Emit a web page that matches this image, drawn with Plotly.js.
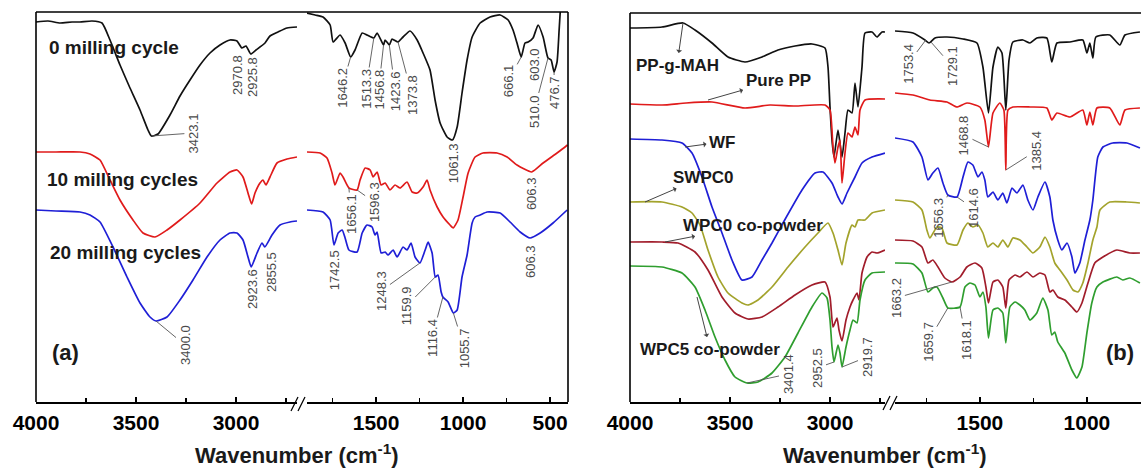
<!DOCTYPE html>
<html>
<head>
<meta charset="utf-8">
<script src="https://cdn.plot.ly/plotly-3.0.1.min.js"></script>
<style>html,body{margin:0;padding:0;background:#fff;}#chart{width:1141px;height:472px;}</style>
</head>
<body>
<div id="chart"></div>
<script>
// ---------- DATA (wavenumber, cm^-1 ; transmittance, arbitrary offset units) ----------
// Panel (a)
const cyc0_hi_wn = [4000,3940,3880,3820,3780,3720,3670,3630,3580,3530,3480,3440,3423,3390,3330,3280,3230,3180,3130,3080,3030,2995,2971,2950,2926,2900,2855,2830,2790,2745,2695];
const cyc0_hi_T  = [380,381,379,380,380,381,379,362,337,314,292,272,266,268,287,306,322,337,349,357,362,361,354,356,348,352,359,366,370,374,375];
const cyc0_lo_wn = [1897,1850,1805,1764,1747,1707,1678,1646,1621,1580,1552,1513,1494,1457,1448,1424,1408,1374,1345,1305,1264,1230,1190,1161,1132,1092,1061,1034,1006,977,948,902,845,787,741,713,690,666,644,626,598,569,540,512,494,477,460,448,441];
const cyc0_lo_T  = [389,387,385,377,360,367,359,345,352,369,367,364,369,357,362,357,363,360,365,371,362,349,332,302,279,265,262,275,309,342,365,379,385,387,382,372,359,345,359,360,364,377,365,344,342,330,340,372,392];

const cyc10_hi_wn = [4000,3900,3780,3730,3680,3630,3580,3515,3465,3405,3345,3280,3180,3095,3030,2995,2965,2940,2922,2905,2880,2865,2850,2830,2795,2745,2695];
const cyc10_hi_T  = [250,250,250,248,242,222,202,182,169,165,172,182,199,219,230,232,225,209,198,209,219,222,217,225,239,243,245];
const cyc10_lo_wn = [1897,1822,1782,1753,1736,1707,1690,1656,1609,1592,1563,1534,1517,1494,1471,1448,1420,1391,1362,1322,1293,1264,1230,1207,1190,1149,1115,1075,1057,1029,1000,971,931,885,805,747,690,606,540,460,414,400];
const cyc10_lo_T  = [250,249,244,229,217,229,225,214,212,222,234,232,225,230,217,219,212,217,214,220,210,209,215,222,212,195,185,177,174,182,205,229,245,249,249,245,237,230,239,249,255,257];

const cyc20_hi_wn = [4000,3900,3780,3730,3680,3615,3545,3480,3430,3400,3345,3280,3215,3145,3080,3030,2995,2965,2940,2924,2895,2870,2856,2820,2780,2730,2695];
const cyc20_hi_T  = [192,191,190,187,180,155,125,99,85,81,85,102,122,145,162,169,169,162,145,135,149,159,155,167,177,180,181];
const cyc20_lo_wn = [1897,1805,1764,1742,1718,1695,1678,1656,1609,1580,1552,1523,1506,1494,1471,1448,1431,1402,1379,1345,1322,1299,1276,1248,1218,1201,1178,1160,1144,1126,1116,1086,1056,1034,1006,977,948,931,902,862,787,730,672,615,557,483,402];
const cyc20_lo_T  = [192,190,182,157,169,172,164,152,150,169,177,175,167,170,149,150,147,152,145,155,152,159,145,139,152,160,149,125,127,110,105,100,89,92,125,147,179,185,187,190,189,180,170,164,169,179,192];

// Panel (b)
const mah_hi_wn = [4000,3840,3735,3675,3590,3510,3425,3340,3260,3175,3090,3025,3010,3000,2990,2980,2960,2940,2925,2910,2890,2875,2860,2840,2825,2790,2765,2740,2725];
const mah_hi_T  = [374,375,379,372,359,345,340,345,352,356,358,354,335,295,262,245,272,245,269,292,289,319,295,335,369,370,365,370,370];
const mah_lo_wn = [1897,1813,1757,1738,1710,1654,1579,1514,1486,1460,1439,1416,1397,1379,1364,1346,1299,1266,1234,1187,1164,1140,1079,1019,1000,986,972,958,893,846,822,752];
const mah_lo_T  = [371,369,362,359,364,365,363,359,335,289,335,355,349,292,342,360,362,359,364,364,340,359,360,362,349,359,344,365,367,357,367,370];

const pp_hi_wn = [4000,3840,3720,3590,3425,3300,3175,3025,3000,2985,2975,2960,2950,2940,2925,2910,2890,2875,2860,2850,2825,2725];
const pp_hi_T  = [298,297,299,300,294,297,296,297,292,255,239,255,262,219,249,269,265,275,267,292,302,303];
const pp_lo_wn = [1897,1813,1734,1654,1607,1561,1500,1477,1460,1439,1407,1388,1379,1369,1346,1266,1187,1164,1140,1079,1019,1000,986,972,953,893,846,822,752];
const pp_lo_T  = [309,307,302,300,295,299,295,282,255,289,299,292,232,292,295,295,294,282,289,285,292,277,290,277,294,294,277,292,294];

const wf_hi_wn = [4000,3840,3740,3690,3640,3590,3540,3490,3440,3390,3340,3290,3235,3140,3075,3035,2990,2960,2940,2915,2875,2840,2790,2725];
const wf_hi_T  = [263,262,259,249,225,195,169,142,122,125,142,159,179,212,229,230,219,205,198,209,225,239,245,249];
const wf_lo_wn = [1897,1813,1771,1743,1720,1696,1673,1650,1607,1579,1556,1533,1509,1491,1477,1463,1439,1416,1393,1374,1350,1327,1299,1276,1252,1229,1196,1173,1159,1136,1117,1093,1070,1056,1033,1009,986,972,949,925,879,813,752];
const wf_lo_T  = [264,260,245,222,229,234,219,207,205,225,240,237,225,230,222,205,210,202,209,199,214,209,217,202,192,205,220,205,182,162,152,159,145,129,139,162,182,202,245,255,259,259,254];

const swpc0_hi_wn = [4000,3840,3740,3690,3650,3610,3560,3510,3440,3410,3360,3290,3210,3125,3060,3010,2985,2960,2940,2920,2890,2875,2860,2825,2790,2725];
const swpc0_hi_T  = [200,200,195,189,177,152,125,109,99,97,102,115,135,155,169,179,169,152,137,159,177,175,182,182,189,192];
const swpc0_lo_wn = [1897,1813,1771,1748,1734,1701,1678,1654,1607,1579,1556,1533,1509,1486,1463,1439,1416,1393,1369,1346,1313,1280,1252,1220,1196,1173,1150,1126,1093,1065,1042,1019,995,972,953,939,893,813,752];
const swpc0_lo_T  = [202,200,192,172,164,175,174,159,157,172,179,175,177,169,155,159,155,162,155,164,162,155,149,155,165,155,139,132,122,112,110,119,139,162,175,192,200,200,199];

const wpc0_hi_wn = [4000,3840,3760,3675,3610,3540,3475,3410,3340,3260,3175,3090,3025,3000,2985,2965,2955,2940,2920,2900,2885,2865,2855,2840,2815,2790,2765,2725];
const wpc0_hi_T  = [160,160,159,150,132,105,89,83,85,95,107,117,120,105,75,84,72,61,82,95,102,109,102,129,145,150,149,152];
const wpc0_lo_wn = [1897,1813,1771,1743,1720,1696,1664,1631,1593,1561,1523,1491,1472,1460,1439,1416,1393,1379,1364,1336,1313,1280,1252,1220,1196,1173,1159,1136,1103,1070,1047,1023,995,963,925,860,799,752];
const wpc0_lo_T  = [162,161,155,139,142,135,124,120,125,135,139,134,115,99,120,122,115,94,122,127,125,130,125,129,127,110,112,105,102,95,90,99,119,139,145,152,149,149];

const wpc5_hi_wn = [4000,3840,3740,3675,3625,3575,3525,3475,3415,3360,3290,3225,3160,3090,3040,3015,3000,2990,2980,2960,2950,2940,2920,2900,2885,2865,2850,2825,2790,2725];
const wpc5_hi_T  = [136,135,129,115,92,65,42,25,19,20,29,45,69,95,109,104,82,55,40,57,49,35,55,72,82,79,102,122,129,130];
const wpc5_lo_wn = [1897,1813,1771,1743,1720,1701,1673,1650,1593,1570,1547,1523,1500,1486,1472,1460,1439,1416,1393,1379,1360,1336,1313,1290,1266,1234,1206,1182,1164,1150,1136,1103,1070,1047,1023,1000,977,953,925,860,832,799,752];
const wpc5_lo_T  = [139,138,129,110,114,115,104,94,95,115,119,117,105,110,95,64,92,94,89,59,95,100,97,92,82,89,104,92,67,70,60,49,32,24,35,69,99,115,120,125,122,124,119];

// Tick labels
const hiTicks = [4000,3500,3000], hiMinor = [3750,3250,2750];
const loTicksA = [1500,1000,500], loMinorA = [1750,1250,750];
const loTicksB = [1500,1000], loMinorB = [1750,1250];

// Peak labels: [text, axis, wavenumber, T, dxPx, dyPx, leader]
const peaksA = [
 ['3423.1','x',3423,266,42,-3,true], ['3400.0','x',3400,81,29,24,true],
 ['2970.8','x',2995,327,0,0,false], ['2925.8','x',2920,325,0,0,false],
 ['2923.6','x',2920,113,0,0,false], ['2855.5','x',2825,130,0,0,false],
 ['1646.2','x2',1646,345,-9,31,true], ['1513.3','x2',1513,364,-8,51,true],
 ['1456.8','x2',1457,357,-5,45,true], ['1423.6','x2',1424,357,6,46,true],
 ['1373.8','x2',1374,360,14,53,true], ['1061.3','x2',1057,239,0,0,false],
 ['666.1','x2',666,345,-13,24,true], ['603.0','x2',592,337,0,0,false],
 ['510.0','x2',512,344,-14,53,true], ['476.7','x2',477,330,0,21,true],
 ['1656.1','x2',1656,214,2,26,true], ['1596.3','x2',1609,212,17,12,true],
 ['606.3','x2',609,208,0,0,false], ['1742.5','x2',1741,132,0,0,false],
 ['1248.3','x2',1248,139,-39,28,true], ['1159.9','x2',1160,125,-29,29,true],
 ['1116.4','x2',1116,105,-11,41,true], ['1055.7','x2',1056,89,11,35,true],
 ['606.3','x2',615,140,0,0,false]
];
const peaksB = [
 ['1753.4','x4',1753,362,-18,24,true], ['1729.1','x4',1729,360,21,24,true],
 ['1468.8','x4',1460,255,-25,-12,true], ['1385.4','x4',1379,232,30,-19,true],
 ['1656.3','x4',1650,207,-10,23,true], ['1614.6','x4',1607,205,16,11,true],
 ['1663.2','x4',1631,120,-56,16,true], ['1659.7','x4',1650,94,-20,34,true],
 ['1618.1','x4',1593,95,6,33,true], ['3401.4','x3',3415,19,41,-9,true],
 ['2952.5','x3',2980,40,-17,6,true], ['2919.7','x3',2940,35,25,-10,true]
];

// Sample names of panel (b) with the curve point their arrow starts from: [text, wavenumber, T, dxPx, dyPx]
const namesB = [
 ['PP-g-MAH',3735,379,-6,42], ['Pure PP',3610,302,70,-20], ['WF',3725,255,37,-5],
 ['SWPC0',3925,200,58,-25], ['WPC0 co-powder',3825,160,88,-17], ['WPC5 co-powder',3665,105,13,52]
];

// ---------- TRACES ----------
const BLACK='#111111', RED='#e01b1b', BLUE='#1f1fd6', OLIVE='#a3a32c', DRED='#a11d2b', GREEN='#2f9e2f';
function tr(x,y,xa,color){
  return {x:x,y:y,xaxis:xa,yaxis:'y',type:'scatter',mode:'lines',
          line:{color:color,width:1.7,shape:'spline',smoothing:0.5},hoverinfo:'skip',showlegend:false};
}
const data = [
  tr(cyc0_hi_wn,cyc0_hi_T,'x',BLACK), tr(cyc0_lo_wn,cyc0_lo_T,'x2',BLACK),
  tr(cyc10_hi_wn,cyc10_hi_T,'x',RED), tr(cyc10_lo_wn,cyc10_lo_T,'x2',RED),
  tr(cyc20_hi_wn,cyc20_hi_T,'x',BLUE), tr(cyc20_lo_wn,cyc20_lo_T,'x2',BLUE),
  tr(mah_hi_wn,mah_hi_T,'x3',BLACK), tr(mah_lo_wn,mah_lo_T,'x4',BLACK),
  tr(pp_hi_wn,pp_hi_T,'x3',RED), tr(pp_lo_wn,pp_lo_T,'x4',RED),
  tr(wf_hi_wn,wf_hi_T,'x3',BLUE), tr(wf_lo_wn,wf_lo_T,'x4',BLUE),
  tr(swpc0_hi_wn,swpc0_hi_T,'x3',OLIVE), tr(swpc0_lo_wn,swpc0_lo_T,'x4',OLIVE),
  tr(wpc0_hi_wn,wpc0_hi_T,'x3',DRED), tr(wpc0_lo_wn,wpc0_lo_T,'x4',DRED),
  tr(wpc5_hi_wn,wpc5_hi_T,'x3',GREEN), tr(wpc5_lo_wn,wpc5_lo_T,'x4',GREEN)
];

// ---------- LAYOUT ----------
const W=1141, H=472;
const X = v => v/W, Y = v => 1 - v/H;
const FONT = 'Liberation Sans, Arial, Helvetica, sans-serif';
function xax(dom, range, ticks, minor){
  return {domain:dom, range:range, anchor:'y', tickmode:'array', tickvals:ticks, ticktext:ticks.map(String),
    ticks:'inside', ticklen:5, tickwidth:1.3, tickcolor:'#000',
    minor:{tickmode:'array', tickvals:minor, ticks:'inside', ticklen:4, tickwidth:1.2, tickcolor:'#000'},
    showline:true, linecolor:'#000', linewidth:1.6, showgrid:false, zeroline:false,
    ticklabelstandoff:1,
    tickfont:{family:FONT, size:21, color:'#000', weight:'bold'}, fixedrange:true};
}
const layout = {
  width:W, height:H, margin:{l:0,r:0,t:0,b:0}, paper_bgcolor:'#fff', plot_bgcolor:'rgba(0,0,0,0)',
  font:{family:FONT},
  xaxis:  xax([X(36),X(297)],[4000,2695],hiTicks,hiMinor),
  xaxis2: xax([X(307),X(568)],[1897,397],loTicksA,loMinorA),
  xaxis3: xax([X(630),X(885)],[4000,2725],hiTicks,hiMinor),
  xaxis4: xax([X(895),1],[1897,747],loTicksB,loMinorB),
  yaxis: {domain:[Y(402),Y(12)], range:[0,390], visible:false, fixedrange:true},
  shapes: [], annotations: []
};
function ln(x0,y0,x1,y1,w){ layout.shapes.push({type:'line',xref:'paper',yref:'paper',x0:X(x0),y0:Y(y0),x1:X(x1),y1:Y(y1),line:{color:'#000',width:w||1.6}}); }
// frames
ln(36,12,568,12); ln(36,12,36,402); ln(568,12,568,402);
ln(630,13,1141,13); ln(630,13,630,402);
// axis break marks
ln(291,411,298,397,1.3); ln(298,411,305,397,1.3);
ln(883,410,890,396,1.3); ln(890,410,897,396,1.3);

// peak labels
[...peaksA, ...peaksB].forEach(p => {
  const a = {text:p[0], xref:p[1], yref:'y', x:p[2], y:p[3], textangle:-90,
    font:{family:FONT, size:13, color:'#4a4a4a'}, xanchor:'center', yanchor:'middle'};
  if (p[6]) { Object.assign(a,{showarrow:true, arrowhead:0, arrowwidth:0.9, arrowcolor:'#555', ax:p[4], ay:p[5], standoff:0}); }
  else { a.showarrow=false; }
  layout.annotations.push(a);
});

// series labels
const lab = (t,x,y,size) => layout.annotations.push({text:t, xref:'paper', yref:'paper', x:X(x), y:Y(y),
   showarrow:false, xanchor:'center', yanchor:'middle', font:{family:FONT, size:size, color:'#1a1a1a', weight:'bold'}});
lab('0 milling cycle',114,48,19); lab('10 milling cycles',122,179,19); lab('20 milling cycles',125,252,19);
lab('(a)',65,352,22); lab('(b)',1120,352,22);
lab('Wavenumber (cm<sup>-1</sup>)',297,454,22); lab('Wavenumber (cm<sup>-1</sup>)',885,454,22);

// panel (b) sample names, each with an arrow from its curve to the name
namesB.forEach(n => layout.annotations.push({text:n[0], xref:'x3', yref:'y', x:n[1], y:n[2], ax:n[3], ay:n[4],
  showarrow:true, arrowside:'start', arrowhead:2, arrowsize:1, arrowwidth:1, arrowcolor:'#444', standoff:0, startstandoff:1,
  font:{family:FONT, size:17, color:'#1a1a1a', weight:'bold'}}));

Plotly.newPlot('chart', data, layout, {staticPlot:true, displayModeBar:false});
</script>
</body>
</html>
